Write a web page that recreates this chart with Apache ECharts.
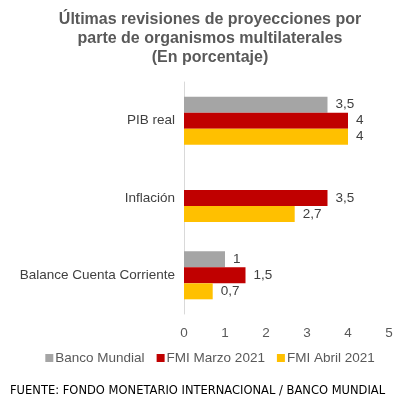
<!DOCTYPE html>
<html><head><meta charset="utf-8">
<script src="https://cdn.jsdelivr.net/npm/echarts@6/dist/echarts.min.js"></script>
<style>html,body{margin:0;padding:0;background:#fff}#c{width:420px;height:406px}</style>
</head><body><div id="c"></div>
<script>
const categories = ['PIB real', 'Inflación', 'Balance Cuenta Corriente'];
const seriesNames = ['Banco Mundial', 'FMI Marzo 2021', 'FMI Abril 2021'];
const bancoMundial = [3.5, null, 1];
const fmiMarzo = [4, 3.5, 1.5];
const fmiAbril = [4, 2.7, 0.7];
const xTicks = [0, 1, 2, 3, 4, 5];
const colors = ['#A5A5A5', '#C00000', '#FFC000'];

const chart = echarts.init(document.getElementById('c'));
const fmt = p => (p.value == null ? '' : String(p.value).replace('.', ','));
const mk = (name, data, color) => ({
  name, type: 'bar', data, barGap: 0, barCategoryGap: '38%',
  itemStyle: { color },
  label: { show: true, position: 'right', formatter: fmt, color: '#404040', fontSize: 13.5, fontFamily: 'Liberation Sans', distance: 8 }
});
chart.setOption({
  animation: false,
  title: {
    text: 'Últimas revisiones de proyecciones por\nparte de organismos multilaterales\n(En porcentaje)',
    left: 'center', top: 5,
    textStyle: { fontFamily: 'Liberation Sans', fontWeight: 'bold', fontSize: 16, color: '#595959', lineHeight: 19 }
  },
  legend: {
    data: seriesNames, bottom: 36, left: 'center', itemWidth: 8, itemHeight: 8, itemGap: 12,
    icon: 'rect',
    textStyle: { fontFamily: 'Liberation Sans', fontSize: 13.5, color: '#595959', padding: [0, 0, 0, -3] }
  },
  graphic: [{
    type: 'text', left: 10, top: 385,
    style: { text: 'FUENTE: FONDO MONETARIO INTERNACIONAL / BANCO MUNDIAL', fontFamily: 'DejaVu Sans', fontSize: 11.5, fill: '#000' }
  }],
  grid: { left: 184, right: 31, top: 82, bottom: 92 },
  xAxis: {
    type: 'value', min: 0, max: 5, interval: 1,
    axisLine: { show: false }, axisTick: { show: false }, splitLine: { show: false },
    axisLabel: { color: '#595959', fontSize: 13.5, fontFamily: 'Liberation Sans', margin: 12, formatter: v => xTicks.includes(v) ? String(v) : '' }
  },
  yAxis: {
    type: 'category', data: categories, inverse: true,
    axisLine: { show: true, lineStyle: { color: '#D9D9D9' } }, axisTick: { show: false },
    axisLabel: { color: '#404040', fontSize: 13.5, fontFamily: 'Liberation Sans', margin: 9 }
  },
  series: [mk(seriesNames[0], bancoMundial, colors[0]), mk(seriesNames[1], fmiMarzo, colors[1]), mk(seriesNames[2], fmiAbril, colors[2])]
});
</script></body></html>
